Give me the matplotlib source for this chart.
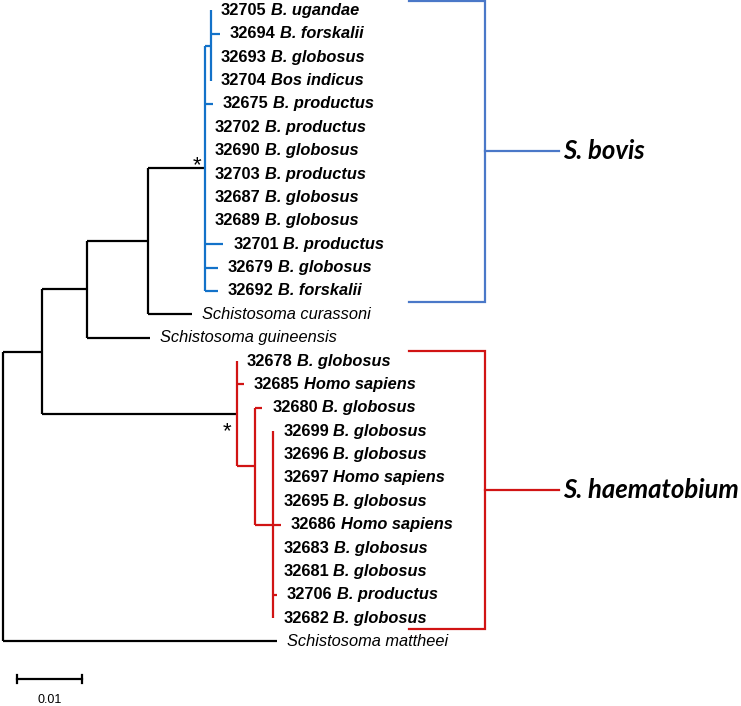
import matplotlib.pyplot as plt

# tips, top to bottom
tip_ids = ['32705', '32694', '32693', '32704', '32675', '32702', '32690',
           '32703', '32687', '32689', '32701', '32679', '32692', '', '',
           '32678', '32685', '32680', '32699', '32696', '32697', '32695',
           '32686', '32683', '32681', '32706', '32682', '']
tip_species = ['B. ugandae', 'B. forskalii', 'B. globosus', 'Bos indicus',
               'B. productus', 'B. productus', 'B. globosus', 'B. productus',
               'B. globosus', 'B. globosus', 'B. productus', 'B. globosus',
               'B. forskalii', 'Schistosoma curassoni', 'Schistosoma guineensis',
               'B. globosus', 'Homo sapiens', 'B. globosus', 'B. globosus',
               'B. globosus', 'Homo sapiens', 'B. globosus', 'Homo sapiens',
               'B. globosus', 'B. globosus', 'B. productus', 'B. globosus',
               'Schistosoma mattheei']
tip_parent = ['bsub', 'bsub', 'bsub', 'bsub', 'bovis', 'bovis', 'bovis',
              'bovis', 'bovis', 'bovis', 'bovis', 'bovis', 'bovis', 'n3', 'n2',
              'haem', 'haem', 'ha', 'hb', 'hb', 'hb', 'hb', 'hb', 'hb', 'hb',
              'hb', 'hb', 'root']
tip_length = [0, 0.0014, 0, 0, 0.0012, 0, 0, 0, 0, 0, 0.0028, 0.0020, 0.0020,
              0.0068, 0.0097, 0, 0.0011, 0.0011, 0, 0, 0, 0, 0.0011, 0, 0,
              0.0006, 0, 0.0422]

# internal nodes (parents listed before children)
node_names = ['root', 'n1', 'n2', 'n3', 'bovis', 'bsub', 'haem', 'ha', 'hb']
node_parent = [None, 'root', 'n1', 'n2', 'n3', 'bovis', 'n1', 'haem', 'ha']
node_length = [0, 0.0060, 0.0069, 0.0094, 0.0088, 0.0009, 0.0300, 0.0028, 0.0028]

clade_names = ['S. bovis', 'S. haematobium']
clade_nodes = ['bovis', 'haem']
clade_rows = [(0, 12), (15, 26)]
line_colors = ['#1372C9', '#D11414']
bracket_colors = ['#4A78C8', '#D11414']

fig = plt.figure(figsize=(7.41, 7.06), dpi=100)
ax = fig.add_axes([0, 0, 1, 1])
ax.set_xlim(-3 / 6500, 738 / 6500)
ax.set_ylim(29.76, -0.449)
ax.axis('off')

# x positions
xpos = {}
for name, par, bl in zip(node_names, node_parent, node_length):
    xpos[name] = 0 if par is None else xpos[par] + bl
children = {n: [] for n in node_names}
for name, par in zip(node_names, node_parent):
    if par is not None:
        children[par].append(name)
tips = []
for i, (par, bl) in enumerate(zip(tip_parent, tip_length)):
    key = 'tip%d' % i
    tips.append(key)
    xpos[key] = xpos[par] + bl
    children[par].append(key)

# y positions
ypos = {t: i for i, t in enumerate(tips)}
def get_y(n):
    if n not in ypos:
        ys = [get_y(c) for c in children[n]]
        ypos[n] = (min(ys) + max(ys)) / 2
    return ypos[n]
get_y('root')

# colour of each node (clade membership)
color = {}
def set_color(n, c):
    color[n] = c
    for ch in children.get(n, []):
        set_color(ch, c)
set_color('root', 'black')
for cn, lc in zip(clade_nodes, line_colors):
    set_color(cn, lc)

lw = 1.6
for n in node_names:
    ys = [ypos[c] for c in children[n]]
    ax.plot([xpos[n], xpos[n]], [min(ys), max(ys)], color=color[n], lw=lw,
            solid_capstyle='butt')
    for c in children[n]:
        if xpos[c] > xpos[n]:
            ax.plot([xpos[n], xpos[c]], [ypos[c], ypos[c]], color=color[n],
                    lw=lw, solid_capstyle='butt')

# tip labels
fs = 11.8
off = 0.0015
for key, tid, sp in zip(tips, tip_ids, tip_species):
    x, y = xpos[key] + off, ypos[key]
    if tid:
        t1 = ax.text(x, y, tid, fontsize=fs, fontweight='bold',
                     family='Liberation Sans', va='center', ha='left')
        ax.annotate(sp, xy=(1, 0), xycoords=t1, xytext=(3.3, 0),
                    textcoords='offset points', fontsize=fs, fontweight='bold',
                    style='italic', family='Liberation Sans', va='bottom',
                    ha='left')
    else:
        ax.text(x, y, sp, fontsize=fs, style='italic',
                family='Liberation Sans', va='center', ha='left')

# bootstrap support marks
ax.annotate('*', xy=(xpos['bovis'], ypos['bovis']), xytext=(-5.8, 2.2),
            textcoords='offset points', fontsize=16, family='Liberation Sans',
            ha='center', va='center')
ax.annotate('*', xy=(xpos['haem'], ypos['haem']), xytext=(-7.2, -13),
            textcoords='offset points', fontsize=16, family='Liberation Sans',
            ha='center', va='center')

# clade brackets
bx0, bx1, bx2, lx = 0.0625, 0.0741, 0.0855, 0.0862
for name, (r0, r1), bc in zip(clade_names, clade_rows, bracket_colors):
    top, bot = r0 - 0.41, r1 + 0.46
    mid = (top + bot) / 2
    ax.plot([bx0, bx1, bx1, bx0], [top, top, bot, bot], color=bc, lw=1.6,
            solid_joinstyle='miter')
    ax.plot([bx1, bx2], [mid, mid], color=bc, lw=1.6)
    ax.text(lx, mid, name, fontsize=18.5, fontweight='bold', style='italic',
            family='Lato', va='center', ha='left')

# scale bar
sx, sy, slen = 14 / 6500, 28.6, 0.01
ax.plot([sx, sx + slen], [sy, sy], color='black', lw=1.6)
for xe in (sx, sx + slen):
    ax.plot([xe, xe], [sy - 0.16, sy + 0.16], color='black', lw=1.6)
ax.text(sx + slen / 2, 29.5, '0.01', fontsize=9, family='Liberation Sans',
        ha='center', va='center')

fig.savefig('out.png', dpi=100)
